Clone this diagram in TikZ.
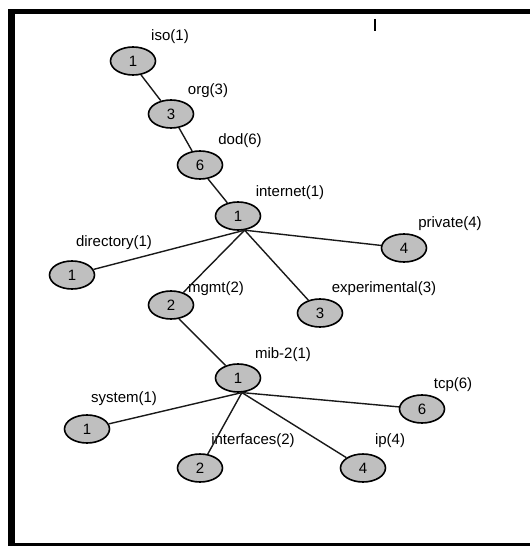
\documentclass[tikz,border=0pt]{standalone}
\usepackage{fontspec}
\setmainfont{Liberation Sans}
\usetikzlibrary{shapes.geometric}
\begin{document}
\begin{tikzpicture}[x=1pt,y=-1pt,
  oid/.style={ellipse, draw=black, line width=1.6pt, fill=gray!50,
    minimum width=45pt, minimum height=28pt, inner sep=0pt,
    font=\fontsize{15}{15}\selectfont},
  lbl/.style={inner sep=0pt, font=\fontsize{15}{15}\selectfont},
  link/.style={line width=1.4pt, draw=black!90},
  frameline/.style={draw=black}]
\useasboundingbox (0,0) rectangle (530,548);
% frame
\draw[frameline, line width=5pt] (8,12) -- (530,12);
\draw[frameline, line width=7pt] (11,10) -- (11,546);
\draw[frameline, line width=3pt] (8,544) -- (530,544);
\draw[frameline, line width=1.5pt] (375,19) -- (375,31);
% nodes
\node[oid] (iso) at (133,61) {1};
\node[oid] (org) at (171,114) {3};
\node[oid] (dod) at (200,165) {6};
\node[oid] (internet) at (238,216) {1};
\node[oid] (private) at (404,248) {4};
\node[oid] (directory) at (72,275) {1};
\node[oid] (mgmt) at (171,305) {2};
\node[oid] (experimental) at (320,313) {3};
\node[oid] (mib) at (238,378) {1};
\node[oid] (tcp) at (422,409) {6};
\node[oid] (system) at (87,429) {1};
\node[oid] (interfaces) at (200,468) {2};
\node[oid] (ip) at (363,468) {4};
% labels
\node[lbl] (liso) at (170,37) {iso(1)};
\node[lbl] (lorg) at (208,91) {org(3)};
\node[lbl] (ldod) at (240,141) {dod(6)};
\node[lbl] (linternet) at (290,193) {internet(1)};
\node[lbl] (lprivate) at (450,224) {private(4)};
\node[lbl] (ldirectory) at (114,243) {directory(1)};
\node[lbl] (lmgmt) at (216,289) {mgmt(2)};
\node[lbl] (lexperimental) at (384,289) {experimental(3)};
\node[lbl] (lmib) at (283,355) {mib-2(1)};
\node[lbl] (ltcp) at (453,385) {tcp(6)};
\node[lbl] (lsystem) at (124,399) {system(1)};
\node[lbl] (linterfaces) at (253,441) {interfaces(2)};
\node[lbl] (lip) at (390,441) {ip(4)};
% connectors
\draw[link] (iso.-60) -- (org);
\draw[link] (org.-60) -- (dod);
\draw[link] (dod.-60) -- (internet);
\draw[link] (internet.-65) -- (directory);
\draw[link] (internet.-65) -- (mgmt);
\draw[link] (internet.-65) -- (experimental);
\draw[link] (internet.-65) -- (private);
\draw[link] (mgmt.-60) -- (mib);
\draw[link] (mib.-75) -- (system);
\draw[link] (mib.-75) -- (interfaces);
\draw[link] (mib.-75) -- (ip);
\draw[link] (mib.-75) -- (tcp);
\end{tikzpicture}
\end{document}
